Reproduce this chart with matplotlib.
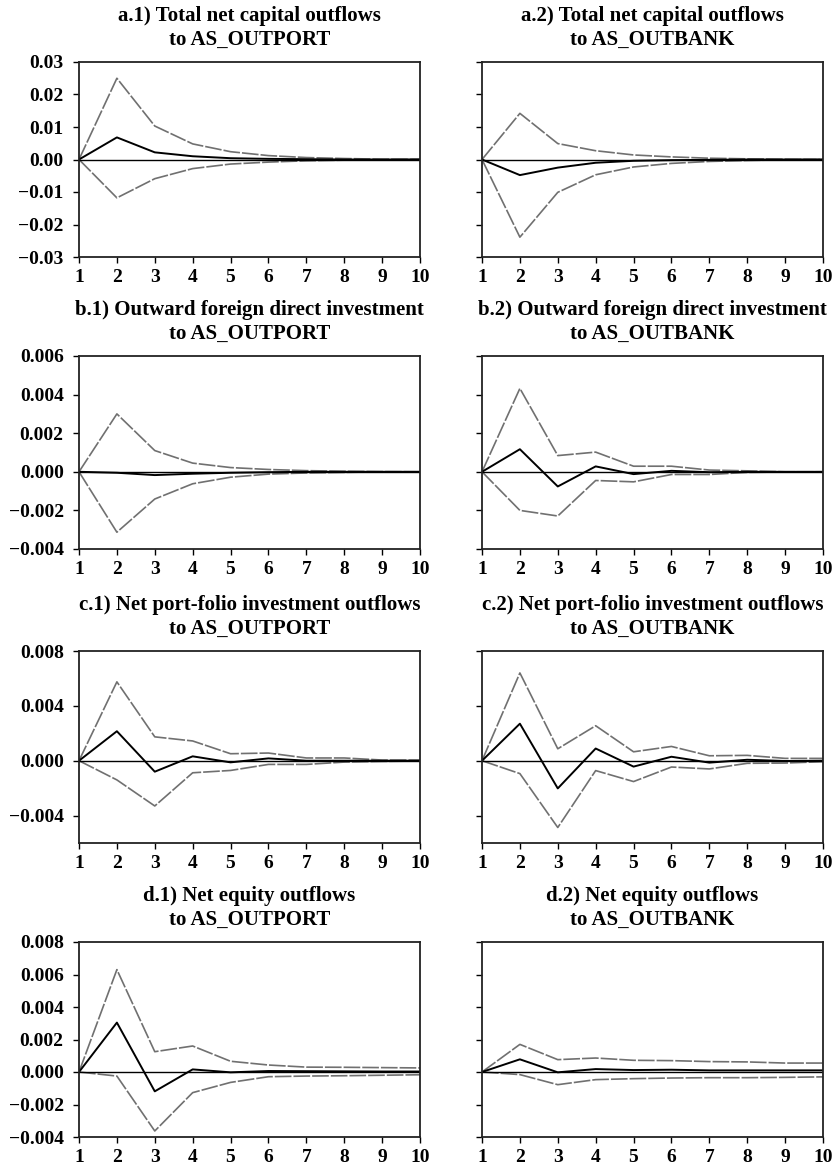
import matplotlib
matplotlib.use("Agg")
import matplotlib.pyplot as plt
import numpy as np

plt.rcParams['font.family'] = ['Liberation Serif', 'DejaVu Serif']
plt.rcParams['font.weight'] = 'bold'

periods = list(range(1, 11))

titles = [
    "a.1) Total net capital outflows\nto AS_OUTPORT",
    "a.2) Total net capital outflows\nto AS_OUTBANK",
    "b.1) Outward foreign direct investment\nto AS_OUTPORT",
    "b.2) Outward foreign direct investment\nto AS_OUTBANK",
    "c.1) Net port-folio investment outflows\nto AS_OUTPORT",
    "c.2) Net port-folio investment outflows\nto AS_OUTBANK",
    "d.1) Net equity outflows\nto AS_OUTPORT",
    "d.2) Net equity outflows\nto AS_OUTBANK",
]

# a.1
a1_resp = [0, 0.0068, 0.0022, 0.0010, 0.0004, 0.0002, 0.0001, 0.0, 0.0, 0.0]
a1_up = [0, 0.0250, 0.0103, 0.0048, 0.0024, 0.0012, 0.0006, 0.0003, 0.0001, 0.0001]
a1_lo = [0, -0.0118, -0.0059, -0.0028, -0.0014, -0.0008, -0.0004, -0.0002, -0.0001, 0.0]
# a.2
a2_resp = [0, -0.0048, -0.0025, -0.0010, -0.0004, -0.0002, -0.0001, 0.0, 0.0, 0.0]
a2_up = [0, 0.0142, 0.0049, 0.0027, 0.0014, 0.0008, 0.0004, 0.0002, 0.0001, 0.0]
a2_lo = [0, -0.0239, -0.0101, -0.0047, -0.0023, -0.0012, -0.0006, -0.0003, -0.0001, 0.0]
# b.1
b1_resp = [0, -0.00005, -0.00017, -0.00010, -0.00005, -0.00002, 0.0, 0.0, 0.0, 0.0]
b1_up = [0, 0.0030, 0.0011, 0.00045, 0.00022, 0.00012, 0.00006, 0.00003, 0.00001, 0.0]
b1_lo = [0, -0.00313, -0.00141, -0.00062, -0.00028, -0.00012, -0.00006, -0.00003, 0.0, 0.0]
# b.2
b2_resp = [0, 0.00117, -0.00076, 0.00028, -0.00012, 0.00005, -0.00002, 0.0, 0.0, 0.0]
b2_up = [0, 0.00432, 0.00084, 0.00102, 0.00029, 0.00029, 0.00009, 0.00005, 0.0, 0.0]
b2_lo = [0, -0.0020, -0.00229, -0.00045, -0.00052, -0.00014, -0.00014, -0.00003, -0.00001, 0.0]
# c.1
c1_resp = [0, 0.00215, -0.0008, 0.00032, -0.00012, 0.00017, 0.0, 0.0, 0.0, 0.0]
c1_up = [0, 0.00575, 0.00174, 0.00144, 0.00051, 0.00056, 0.0002, 0.0002, 0.00005, 0.00005]
c1_lo = [0, -0.0014, -0.0033, -0.00088, -0.00071, -0.00027, -0.00027, -0.0001, -0.00005, -0.00002]
# c.2
c2_resp = [0, 0.0027, -0.00202, 0.00089, -0.00043, 0.00029, -0.00014, 0.00007, -0.00002, 0.0]
c2_up = [0, 0.0064, 0.00087, 0.00255, 0.00065, 0.00104, 0.00036, 0.00039, 0.00017, 0.00017]
c2_lo = [0, -0.00094, -0.00487, -0.00072, -0.00152, -0.00046, -0.0006, -0.00019, -0.00017, -0.00007]
# d.1
d1_resp = [0, 0.00304, -0.00119, 0.00016, -0.00002, 0.00006, 0.00005, 0.00004, 0.00003, 0.00003]
d1_up = [0, 0.0063, 0.00125, 0.0016, 0.00066, 0.00043, 0.0003, 0.00029, 0.00027, 0.00025]
d1_lo = [0, -0.00025, -0.00363, -0.00127, -0.00064, -0.00029, -0.00025, -0.00023, -0.0002, -0.00017]
# d.2
d2_resp = [0, 0.00078, -0.00002, 0.00018, 0.00012, 0.00014, 0.0001, 0.0001, 0.0001, 0.0001]
d2_up = [0, 0.0017, 0.00076, 0.00086, 0.00072, 0.0007, 0.00064, 0.00062, 0.00055, 0.00055]
d2_lo = [0, -0.00016, -0.00078, -0.00047, -0.00041, -0.00037, -0.00035, -0.00035, -0.00033, -0.0003]

responses = [a1_resp, a2_resp, b1_resp, b2_resp, c1_resp, c2_resp, d1_resp, d2_resp]
uppers = [a1_up, a2_up, b1_up, b2_up, c1_up, c2_up, d1_up, d2_up]
lowers = [a1_lo, a2_lo, b1_lo, b2_lo, c1_lo, c2_lo, d1_lo, d2_lo]

row_ylims = [(-0.03, 0.03), (-0.004, 0.006), (-0.006, 0.008), (-0.004, 0.008)]
row_yticks = [
    [-0.03, -0.02, -0.01, 0.00, 0.01, 0.02, 0.03],
    [-0.004, -0.002, 0.000, 0.002, 0.004, 0.006],
    [-0.004, 0.000, 0.004, 0.008],
    [-0.004, -0.002, 0.000, 0.002, 0.004, 0.006, 0.008],
]
row_fmt = ["{:.2f}", "{:.3f}", "{:.3f}", "{:.3f}"]

W, H = 840, 1172
fig = plt.figure(figsize=(W / 100, H / 100), dpi=100)

col_left = [79, 482]
ax_w = 341
row_top = [62, 356, 651, 942]
row_bot = [257, 549, 843, 1137]

for i in range(8):
    r, c = divmod(i, 2)
    x0 = col_left[c] / W
    y0 = 1 - row_bot[r] / H
    h = (row_bot[r] - row_top[r]) / H
    ax = fig.add_axes([x0, y0, ax_w / W, h])
    ax.plot(periods, uppers[i], color='#707070', lw=1.2, ls=(0, (10, 1.2)))
    ax.plot(periods, lowers[i], color='#707070', lw=1.2, ls=(0, (10, 1.2)))
    ax.plot(periods, responses[i], color='black', lw=1.4)
    ax.axhline(0, color='black', lw=1.0)
    ax.set_xlim(1, 10)
    ax.set_ylim(*row_ylims[r])
    ax.set_xticks(periods)
    ax.set_yticks(row_yticks[r])
    if c == 0:
        ax.set_yticklabels([row_fmt[r].format(v).replace('-', '\u2212') for v in row_yticks[r]])
    else:
        ax.set_yticklabels([])
    ax.tick_params(axis='both', direction='out', length=4, width=1.0, labelsize=14,
                   top=False, right=False)
    ax.tick_params(axis='y', pad=7)
    ax.tick_params(axis='x', pad=5)
    for lab in ax.get_xticklabels() + ax.get_yticklabels():
        lab.set_fontweight('bold')
    for s in ax.spines.values():
        s.set_linewidth(1.3)
        s.set_color('#222222')
    ax.set_title(titles[i], fontsize=15, fontweight='bold', linespacing=1.28, pad=12)

fig.savefig("out.png", dpi=100)
